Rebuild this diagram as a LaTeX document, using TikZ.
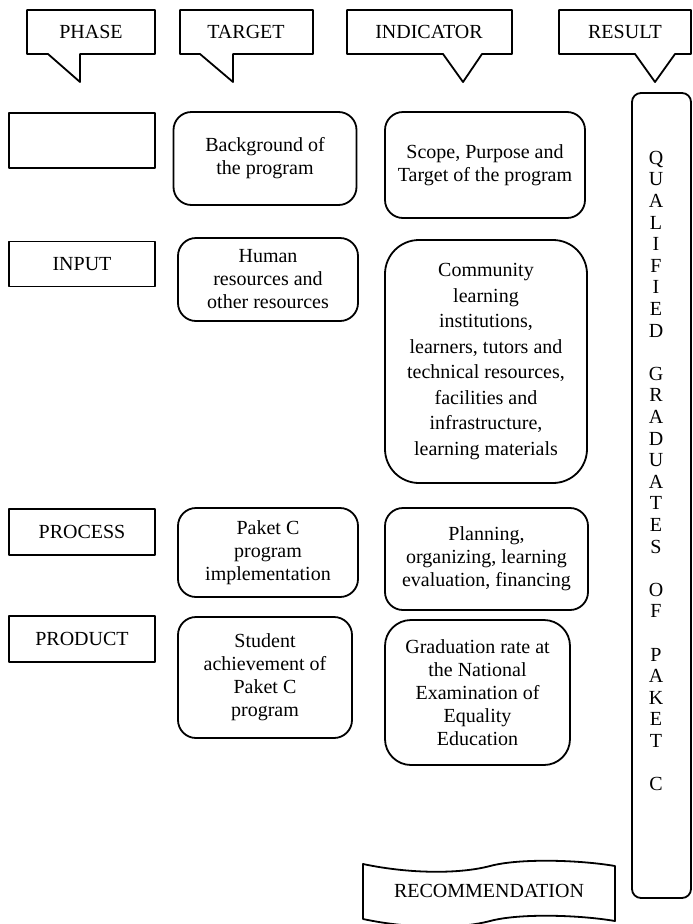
\documentclass[tikz,border=0pt]{standalone}
\usepackage{fontspec}
\setmainfont{Liberation Serif}
\begin{document}
\begin{tikzpicture}[x=1pt, y=-1pt, line join=round,
    every node/.style={font=\fontsize{20}{23}\selectfont, align=center, inner sep=0pt},
    edge/.style={line width=1.8pt},
    phasebox/.style={draw, edge, minimum width=146pt, minimum height=50pt},
    rbox/.style={draw, edge, rounded corners=18pt}]

    \useasboundingbox (0,0) rectangle (693,924);

    % 1. Callouts at the top
    \draw[edge] (27,10) -- (155,10) -- (155,54) -- (80,54) -- (80,82) -- (48,54) -- (27,54) -- cycle;
    \draw[edge] (180,10) -- (313,10) -- (313,54) -- (233,54) -- (233,82) -- (200,54) -- (180,54) -- cycle;
    \draw[edge] (347,10) -- (512,10) -- (512,54) -- (482,54) -- (463,82) -- (443,54) -- (347,54) -- cycle;
    \draw[edge] (559,10) -- (691,10) -- (691,54) -- (675,54) -- (655,82) -- (635,54) -- (559,54) -- cycle;

    \node (phase)     at (91,32)  {PHASE};
    \node (target)    at (246,32) {TARGET};
    \node (indicator) at (429,32) {INDICATOR};
    \node (result)    at (625,32) {RESULT};

    % 2. Phase column
    \node[phasebox, minimum height=55pt] (context) at (82,140.5) {};
    \node[phasebox, minimum height=45pt] (input)   at (82,264) {INPUT};
    \node[phasebox, minimum height=46pt] (process) at (82,532) {PROCESS};
    \node[phasebox, minimum height=46pt] (product) at (82,639) {PRODUCT};

    % 3. Target column
    \node[rbox, minimum width=183pt, minimum height=93pt] (background) at (265,158.5)
        {Background of\\the program};
    \node[rbox, minimum width=180pt, minimum height=83pt] (resources) at (268,279.5)
        {Human\\resources and\\other resources};
    \node[rbox, minimum width=180pt, minimum height=89pt] (paketc) at (268,552.5)
        {Paket C\\program\\implementation};
    \node[rbox, minimum width=174pt, minimum height=121pt] (achievement) at (265,677.5)
        {Student\\achievement of\\Paket C\\program};

    % 4. Indicator column
    \node[rbox, minimum width=200pt, minimum height=106pt] (scope) at (485,165)
        {Scope, Purpose and\\Target of the program};
    \node[rbox, rounded corners=34pt, minimum width=202pt, minimum height=243pt,
          font=\fontsize{20}{25.5}\selectfont] (community) at (486,361.5)
        {Community\\learning\\institutions,\\learners, tutors and\\technical resources,\\facilities and\\infrastructure,\\learning materials};
    \node[rbox, minimum width=203pt, minimum height=102pt] (planning) at (486.5,559)
        {Planning,\\organizing, learning\\evaluation, financing};
    \node[rbox, rounded corners=26pt, minimum width=185pt, minimum height=145pt] (graduation) at (477.5,692.5)
        {Graduation rate at\\the National\\Examination of\\Equality\\Education};

    % 5. Result column
    \draw[edge, rounded corners=9pt] (632,93) rectangle (691,898);
    \node[font=\fontsize{20}{21.6}\selectfont] (qualified) at (656,471)
        {Q\\U\\A\\L\\I\\F\\I\\E\\D\\~\\G\\R\\A\\D\\U\\A\\T\\E\\S\\~\\O\\F\\~\\P\\A\\K\\E\\T\\~\\C};

    % 6. Recommendation tape
    \draw[edge] (363,864) .. controls (410,874) and (460,874) .. (490,866)
        .. controls (520,858) and (580,860) .. (615,866) -- (615,921)
        .. controls (580,915) and (520,913) .. (490,921)
        .. controls (460,929) and (410,929) .. (363,919) -- cycle;
    \node (recommendation) at (489,891) {RECOMMENDATION};

\end{tikzpicture}
\end{document}
